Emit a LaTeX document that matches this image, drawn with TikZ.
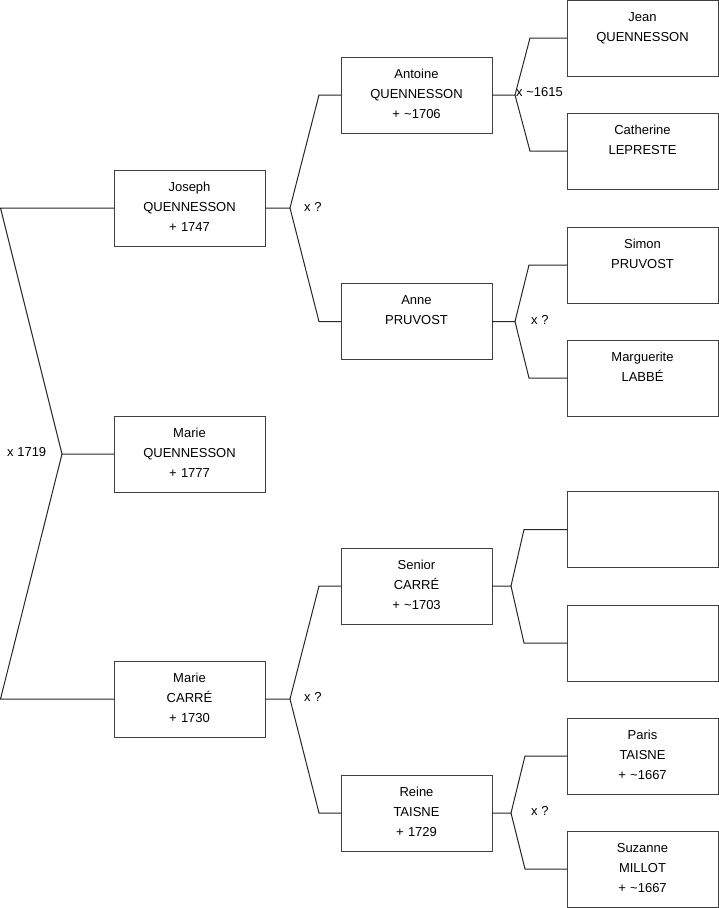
\documentclass[tikz,border=0pt]{standalone}
\usepackage{fontspec}
\setmainfont{Liberation Sans}
\begin{document}
\begin{tikzpicture}[x=1pt,y=-1pt,
 pbox/.style={draw=black!75, line width=1pt, minimum width=151pt, minimum height=76pt, inner sep=0pt, outer sep=0pt},
 txt/.style={anchor=north, inner sep=0pt, text width=151pt, align=center, font=\fontsize{13}{20}\selectfont},
 lbl/.style={anchor=west, inner sep=0pt, font=\fontsize{13}{15}\selectfont},
 conn/.style={draw=black!85, line width=1pt}]
\useasboundingbox (0,0) rectangle (719,908);
% boxes column 1
\node[pbox] (J) at (189.5,208) {};
\node[pbox] (MQ) at (189.5,454) {};
\node[pbox] (MC) at (189.5,699) {};
% column 2
\node[pbox] (A) at (416.5,95) {};
\node[pbox] (AP) at (416.5,321.5) {};
\node[pbox] (S) at (416.5,586) {};
\node[pbox] (R) at (416.5,813) {};
% column 3
\node[pbox] (JQ) at (642.5,38) {};
\node[pbox] (CL) at (642.5,151) {};
\node[pbox] (SP) at (642.5,265) {};
\node[pbox] (ML) at (642.5,378) {};
\node[pbox] (E1) at (642.5,529.5) {};
\node[pbox] (E2) at (642.5,643) {};
\node[pbox] (PT) at (642.5,756) {};
\node[pbox] (SM) at (642.5,869) {};
% texts
\node[txt] (Jt) at (J.north) {\rule{0pt}{21pt}Joseph\\QUENNESSON\\+ 1747};
\node[txt] (MQt) at (MQ.north) {\rule{0pt}{21pt}Marie\\QUENNESSON\\+ 1777};
\node[txt] (MCt) at (MC.north) {\rule{0pt}{21pt}Marie\\CARRÉ\\+ 1730};
\node[txt] (At) at (A.north) {\rule{0pt}{21pt}Antoine\\QUENNESSON\\+ \textasciitilde1706};
\node[txt] (APt) at (AP.north) {\rule{0pt}{21pt}Anne\\PRUVOST};
\node[txt] (St) at (S.north) {\rule{0pt}{21pt}Senior\\CARRÉ\\+ \textasciitilde1703};
\node[txt] (Rt) at (R.north) {\rule{0pt}{21pt}Reine\\TAISNE\\+ 1729};
\node[txt] (JQt) at (JQ.north) {\rule{0pt}{21pt}Jean\\QUENNESSON};
\node[txt] (CLt) at (CL.north) {\rule{0pt}{21pt}Catherine\\LEPRESTE};
\node[txt] (SPt) at (SP.north) {\rule{0pt}{21pt}Simon\\PRUVOST};
\node[txt] (MLt) at (ML.north) {\rule{0pt}{21pt}Marguerite\\LABBÉ};
\node[txt] (PTt) at (PT.north) {\rule{0pt}{21pt}Paris\\TAISNE\\+ \textasciitilde1667};
\node[txt] (SMt) at (SM.north) {\rule{0pt}{21pt}Suzanne\\MILLOT\\+ \textasciitilde1667};
% fork points
\coordinate (f0) at (62,454);
\coordinate (f0a) at (0.5,208);
\coordinate (f0b) at (0.5,699);
\coordinate (fJ) at (290,208);
\coordinate (fMC) at (290,699);
\coordinate (fA) at (515,95);
\coordinate (fAP) at (515,321.5);
\coordinate (fS) at (511,586);
\coordinate (fR) at (511,813);
% connectors
\draw[conn] (MQ.west) -- (f0) -- (f0a) -- (J.west);
\draw[conn] (f0) -- (f0b) -- (MC.west);
\draw[conn] (J.east) -- (fJ) -- ([xshift=-22pt]A.west) -- (A.west);
\draw[conn] (fJ) -- ([xshift=-22pt]AP.west) -- (AP.west);
\draw[conn] (MC.east) -- (fMC) -- ([xshift=-22pt]S.west) -- (S.west);
\draw[conn] (fMC) -- ([xshift=-22pt]R.west) -- (R.west);
\draw[conn] (A.east) -- (fA) -- ([xshift=-37pt]JQ.west) -- (JQ.west);
\draw[conn] (fA) -- ([xshift=-37pt]CL.west) -- (CL.west);
\draw[conn] (AP.east) -- (fAP) -- ([xshift=-38pt]SP.west) -- (SP.west);
\draw[conn] (fAP) -- ([xshift=-38pt]ML.west) -- (ML.west);
\draw[conn] (S.east) -- (fS) -- ([xshift=-43pt]E1.west) -- (E1.west);
\draw[conn] (fS) -- ([xshift=-43pt]E2.west) -- (E2.west);
\draw[conn] (R.east) -- (fR) -- ([xshift=-42pt]PT.west) -- (PT.west);
\draw[conn] (fR) -- ([xshift=-42pt]SM.west) -- (SM.west);
% labels
\node[lbl] (l0) at (7,452) {x 1719};
\node[lbl] (lJ) at (304,207) {x ?};
\node[lbl] (lMC) at (304,697) {x ?};
\node[lbl] (lA) at (516,92) {x \textasciitilde1615};
\node[lbl] (lAP) at (531,320) {x ?};
\node[lbl] (lR) at (531,811) {x ?};
\end{tikzpicture}
\end{document}
